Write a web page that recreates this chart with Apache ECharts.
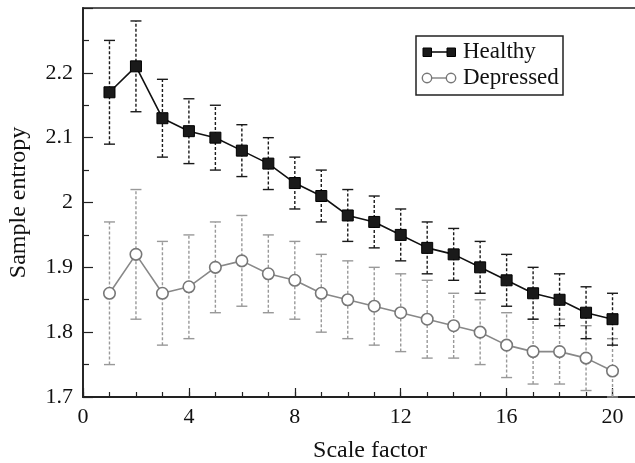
<!DOCTYPE html>
<html>
<head>
<meta charset="utf-8">
<script src="https://cdn.jsdelivr.net/npm/echarts@6/dist/echarts.min.js"></script>
<style>html,body{margin:0;padding:0;background:#fff}#c{width:635px;height:463px}</style>
</head>
<body>
<div id="c"></div>
<script>
var scaleFactors = [1,2,3,4,5,6,7,8,9,10,11,12,13,14,15,16,17,18,19,20];
var healthyMean = [2.17,2.21,2.13,2.11,2.10,2.08,2.06,2.03,2.01,1.98,1.97,1.95,1.93,1.92,1.90,1.88,1.86,1.85,1.83,1.82];
var healthyLow  = [2.09,2.14,2.07,2.06,2.05,2.04,2.02,1.99,1.97,1.94,1.93,1.91,1.89,1.88,1.86,1.84,1.82,1.81,1.79,1.78];
var healthyHigh = [2.25,2.28,2.19,2.16,2.15,2.12,2.10,2.07,2.05,2.02,2.01,1.99,1.97,1.96,1.94,1.92,1.90,1.89,1.87,1.86];
var depressedMean = [1.86,1.92,1.86,1.87,1.90,1.91,1.89,1.88,1.86,1.85,1.84,1.83,1.82,1.81,1.80,1.78,1.77,1.77,1.76,1.74];
var depressedLow  = [1.75,1.82,1.78,1.79,1.83,1.84,1.83,1.82,1.80,1.79,1.78,1.77,1.76,1.76,1.75,1.73,1.72,1.72,1.71,1.70];
var depressedHigh = [1.97,2.02,1.94,1.95,1.97,1.98,1.95,1.94,1.92,1.91,1.90,1.89,1.88,1.86,1.85,1.83,1.82,1.82,1.81,1.79];
var xTickLabels = [0,4,8,12,16,20];
var yTickLabels = [1.7,1.8,1.9,2,2.1,2.2];
var legendNames = ['Healthy','Depressed'];

var FONT = 'Liberation Serif';
var chart = echarts.init(document.getElementById('c'), null, {renderer:'canvas'});

function pairs(xs, ys){ return xs.map(function(x,i){ return [x, ys[i]]; }); }
function bars(xs, lo, hi){ return xs.map(function(x,i){ return [x, lo[i], hi[i]]; }); }

function errRender(color){
  return function(params, api){
    var x = api.value(0);
    var p1 = api.coord([x, api.value(1)]);
    var p2 = api.coord([x, api.value(2)]);
    var hw = 5.5;
    var st = {stroke: color, lineWidth: 1.4};
    return {
      type: 'group',
      children: [
        {type:'line', shape:{x1:p1[0], y1:p1[1], x2:p2[0], y2:p2[1]}, style:{stroke:color, lineWidth:1.4, lineDash:[3,2]}},
        {type:'line', shape:{x1:p1[0]-hw, y1:p1[1], x2:p1[0]+hw, y2:p1[1]}, style:st},
        {type:'line', shape:{x1:p2[0]-hw, y1:p2[1], x2:p2[0]+hw, y2:p2[1]}, style:st}
      ]
    };
  };
}

var option = {
  animation: false,
  backgroundColor: '#fff',
  textStyle: {fontFamily: FONT},
  grid: {left: 83, top: 8, right: -4, bottom: 66, outerBoundsMode: 'none', containLabel: false,
         show: true, borderColor: '#222', borderWidth: 1.5, backgroundColor: 'transparent'},
  xAxis: [{
    type: 'value', min: 0, max: 21, interval: 4, position: 'bottom',
    name: 'Scale factor', nameLocation: 'middle', nameGap: 42,
    nameTextStyle: {fontFamily: FONT, fontSize: 24, color: '#111', padding: [0, 0, 0, 18]},
    axisLine: {show: true, onZero: false, lineStyle: {color: '#222', width: 1.8}},
    axisTick: {show: true, inside: true, length: 9, lineStyle: {color: '#222', width: 1.2}},
    axisLabel: {fontFamily: FONT, fontSize: 22, color: '#111', margin: 9,
      formatter: function(v){ return xTickLabels.indexOf(v) >= 0 ? String(v) : ''; }},
    splitLine: {show: false}
  },{
    type: 'value', min: 0, max: 21, interval: 1, position: 'bottom',
    axisLine: {show: false},
    axisTick: {show: true, inside: true, length: 5, lineStyle: {color: '#222', width: 1.2}},
    axisLabel: {show: false},
    splitLine: {show: false}
  }],
  yAxis: {
    type: 'value', min: 1.7, max: 2.3, interval: 0.1,
    name: 'Sample entropy', nameLocation: 'middle', nameGap: 52,
    nameTextStyle: {fontFamily: FONT, fontSize: 24, color: '#111'},
    axisLine: {show: true, lineStyle: {color: '#222', width: 1.8}},
    axisTick: {show: true, inside: true, length: 10, lineStyle: {color: '#222', width: 1.2}},
    minorTick: {show: true, splitNumber: 2, length: 6, lineStyle: {color: '#222', width: 1.2}},
    axisLabel: {fontFamily: FONT, fontSize: 22, color: '#111', margin: 10,
      formatter: function(v){ var r = Math.round(v*10)/10; return yTickLabels.indexOf(r) >= 0 ? String(r) : ''; }},
    splitLine: {show: false}
  },
  series: [
    {type: 'custom', name: 'DepressedErr', renderItem: errRender('#999'), data: bars(scaleFactors, depressedLow, depressedHigh), z: 2, silent: true},
    {type: 'line', name: 'Depressed', data: pairs(scaleFactors, depressedMean), symbol: 'circle', symbolSize: 11.5,
      lineStyle: {color: '#888', width: 1.6}, itemStyle: {color: '#fff', borderColor: '#777', borderWidth: 1.6}, z: 3},
    {type: 'custom', name: 'HealthyErr', renderItem: errRender('#1a1a1a'), data: bars(scaleFactors, healthyLow, healthyHigh), z: 4, silent: true},
    {type: 'line', name: 'Healthy', data: pairs(scaleFactors, healthyMean), symbol: 'rect', symbolSize: 11,
      lineStyle: {color: '#111', width: 1.6}, itemStyle: {color: '#1a1a1a', borderColor: '#000', borderWidth: 1}, z: 5}
  ],
  graphic: [
    {type: 'rect', shape: {x: 416, y: 36, width: 147, height: 59}, style: {fill: '#fff', stroke: '#222', lineWidth: 1.5}, z: 100},
    {type: 'line', shape: {x1: 427, y1: 52, x2: 451, y2: 52}, style: {stroke: '#111', lineWidth: 1.6}, z: 101},
    {type: 'rect', shape: {x: 423, y: 48, width: 8.5, height: 8.5}, style: {fill: '#1a1a1a', stroke: '#000'}, z: 102},
    {type: 'rect', shape: {x: 447, y: 48, width: 8.5, height: 8.5}, style: {fill: '#1a1a1a', stroke: '#000'}, z: 102},
    {type: 'text', x: 463, y: 52, style: {text: legendNames[0], fontFamily: FONT, fontSize: 23, fill: '#111', verticalAlign: 'middle'}, z: 102},
    {type: 'line', shape: {x1: 427, y1: 78, x2: 451, y2: 78}, style: {stroke: '#888', lineWidth: 1.5}, z: 101},
    {type: 'circle', shape: {cx: 427, cy: 78, r: 4.7}, style: {fill: '#fff', stroke: '#777', lineWidth: 1.4}, z: 102},
    {type: 'circle', shape: {cx: 451, cy: 78, r: 4.7}, style: {fill: '#fff', stroke: '#777', lineWidth: 1.4}, z: 102},
    {type: 'text', x: 463, y: 78, style: {text: legendNames[1], fontFamily: FONT, fontSize: 23, fill: '#111', verticalAlign: 'middle'}, z: 102}
  ]
};
chart.setOption(option);
</script>
</body>
</html>
